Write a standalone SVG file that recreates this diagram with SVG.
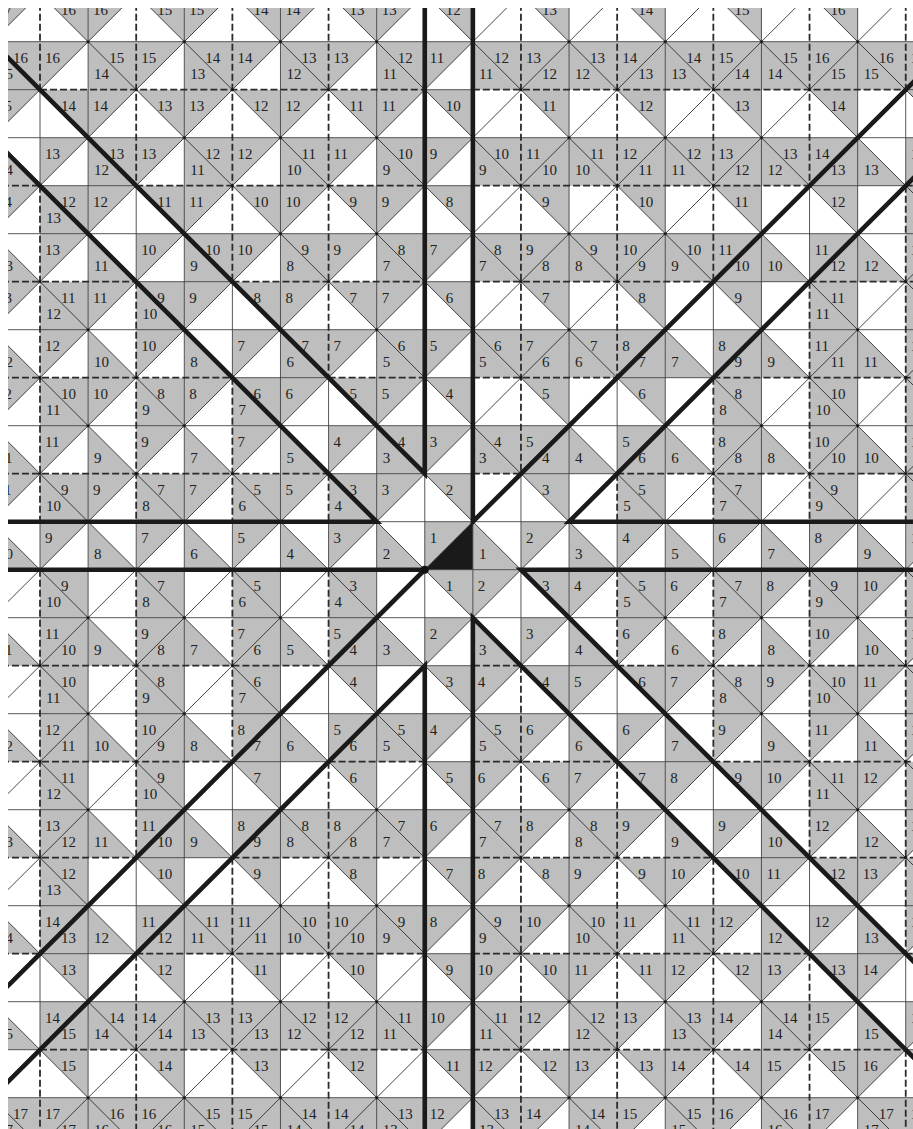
<svg xmlns="http://www.w3.org/2000/svg" width="913" height="1129" viewBox="0 0 913 1129">
<defs>
<clipPath id="clip"><rect x="8" y="8" width="905" height="1121"/></clipPath>
<pattern id="dots" patternUnits="userSpaceOnUse" x="-24" y="-24" width="96" height="96"><circle cx="72" cy="24" r="1.5" fill="#111"/><circle cx="24" cy="72" r="1.5" fill="#111"/></pattern>
<style>
.g{fill:#bebebe;stroke:none}
.t{fill:none;stroke:#444;stroke-width:0.9}
.x{fill:none;stroke:#1a1a1a;stroke-width:0.8}
.d{fill:none;stroke:#2b2b2b;stroke-width:1.8;stroke-dasharray:7 3}
.k{fill:none;stroke:#1a1a1a;stroke-width:4.6;stroke-linejoin:miter;stroke-miterlimit:4}
text{font-family:"Liberation Serif","Times New Roman",serif;font-size:15px;fill:#222}
</style>
</defs>
<rect width="913" height="1129" fill="#fff"/>
<g clip-path="url(#clip)">
<g transform="translate(40 41.7) scale(1.002 1)">
<g id="shading">
<path class="g" d="M-48 -48h48l-48 48zM0 -48h48v48zM48 -48h48l-48 48zM96 -48h48v48zM144 -48h48l-48 48zM192 -48h48v48zM240 -48h48l-48 48zM288 -48h48v48zM336 -48h48l-48 48zM384 -48h48v48zM480 -48h48v48zM576 -48h48v48zM672 -48h48v48zM768 -48h48v48zM864 -48h48v48z
M-48 0h48v48h-48zM0 0h48l-48 48zM48 0h48v48h-48zM96 0h48l-48 48zM144 0h48v48h-48zM192 0h48l-48 48zM240 0h48v48h-48zM288 0h48l-48 48zM336 0h48v48h-48zM384 0h48l-48 48zM432 0h480v48h-480z
M-48 48h48l-48 48zM0 48h48v48zM48 48h48l-48 48zM96 48h48v48zM144 48h48l-48 48zM192 48h48v48zM240 48h48l-48 48zM288 48h48v48zM336 48h48l-48 48zM384 48h48v48zM480 48h48v48zM576 48h48v48zM672 48h48v48zM768 48h48v48zM864 48h48v48z
M-48 96v48h48zM0 96h48l-48 48zM48 96h48v48h-48zM96 96h48l-48 48zM144 96h48v48h-48zM192 96h48l-48 48zM240 96h48v48h-48zM288 96h48l-48 48zM336 96h48v48h-48zM384 96h48l-48 48zM432 96h384v48h-384zM816 96v48h48zM864 96h48v48h-48z
M-48 144h48l-48 48zM0 144h48v48h-48zM48 144h48l-48 48zM96 144h48v48zM144 144h48l-48 48zM192 144h48v48zM240 144h48l-48 48zM288 144h48v48zM336 144h48l-48 48zM384 144h48v48zM480 144h48v48zM576 144h48v48zM672 144h48v48zM768 144h48v48zM864 144h48v48h-48z
M-48 192v48h48zM0 192h48l-48 48zM48 192v48h48zM96 192h48l-48 48zM144 192h48v48h-48zM192 192h48l-48 48zM240 192h48v48h-48zM288 192h48l-48 48zM336 192h48v48h-48zM384 192h48l-48 48zM432 192h288v48h-288zM720 192v48h48zM768 192h48v48h-48zM816 192v48h48zM864 192h48v48h-48z
M-48 240h48l-48 48zM0 240h48v48h-48zM48 240h48l-48 48zM96 240h48v48h-48zM144 240h48l-48 48zM192 240h48v48zM240 240h48l-48 48zM288 240h48v48zM336 240h48l-48 48zM384 240h48v48zM480 240h48v48zM576 240h48v48zM672 240h48v48zM768 240h48v48h-48zM864 240h48v48h-48z
M-48 288v48h48zM0 288h48l-48 48zM48 288v48h48zM96 288h48l-48 48zM144 288v48h48zM192 288h48l-48 48zM240 288h48v48h-48zM288 288h48l-48 48zM336 288h48v48h-48zM384 288h48l-48 48zM432 288h192v48h-192zM624 288v48h48zM672 288h48v48h-48zM720 288v48h48zM768 288h48v48h-48zM816 288v48h48zM864 288h48v48h-48z
M-48 336h48l-48 48zM0 336h48v48h-48zM48 336h48l-48 48zM96 336h48v48h-48zM144 336h48l-48 48zM192 336h48v48h-48zM240 336h48l-48 48zM288 336h48v48zM336 336h48l-48 48zM384 336h48v48zM480 336h48v48zM576 336h48v48zM672 336h48v48h-48zM768 336h48v48h-48zM864 336h48v48h-48z
M-48 384v48h48zM0 384h48l-48 48zM48 384v48h48zM96 384h48l-48 48zM144 384v48h48zM192 384h48l-48 48zM240 384v48h48zM288 384h48l-48 48zM336 384h48v48h-48zM384 384h48l-48 48zM432 384h96v48h-96zM528 384v48h48zM576 384h48v48h-48zM624 384v48h48zM672 384h48v48h-48zM720 384v48h48zM768 384h48v48h-48zM816 384v48h48zM864 384h48v48h-48z
M-48 432h48l-48 48zM0 432h48v48h-48zM48 432h48l-48 48zM96 432h48v48h-48zM144 432h48l-48 48zM192 432h48v48h-48zM240 432h48l-48 48zM288 432h48v48h-48zM336 432h48l-48 48zM384 432h48v48zM480 432h48v48zM576 432h48v48h-48zM672 432h48v48h-48zM768 432h48v48h-48zM864 432h48v48h-48z
M-48 480v48h48zM0 480h48l-48 48zM48 480v48h48zM96 480h48l-48 48zM144 480v48h48zM192 480h48l-48 48zM240 480v48h48zM288 480h48l-48 48zM336 480v48h48zM384 480h48l-48 48zM432 480v48h48zM480 480h48l-48 48zM528 480v48h48zM576 480h48l-48 48zM624 480v48h48zM672 480h48l-48 48zM720 480v48h48zM768 480h48l-48 48zM816 480v48h48zM864 480h48l-48 48z
M0 528h48v48h-48zM96 528h48v48h-48zM192 528h48v48h-48zM288 528h48v48h-48zM384 528h48v48zM432 528h48l-48 48zM480 528h48v48zM528 528h48l-48 48zM576 528h48v48h-48zM624 528h48l-48 48zM672 528h48v48h-48zM720 528h48l-48 48zM768 528h48v48h-48zM816 528h48l-48 48zM864 528h48v48h-48z
M-48 576v48h48zM0 576h48v48h-48zM48 576v48h48zM96 576h48v48h-48zM144 576v48h48zM192 576h48v48h-48zM240 576v48h48zM288 576h48v48h-48zM336 576v48h48zM384 576h48l-48 48zM432 576v48h48zM480 576h48l-48 48zM528 576v48h48zM576 576h48l-48 48zM624 576v48h48zM672 576h48l-48 48zM720 576v48h48zM768 576h48l-48 48zM816 576v48h48zM864 576h48l-48 48z
M0 624h48v48h-48zM96 624h48v48h-48zM192 624h48v48h-48zM288 624h48v48zM384 624h48v48zM432 624h48l-48 48zM480 624h48v48zM528 624h48l-48 48zM576 624h48v48zM624 624h48l-48 48zM672 624h48v48h-48zM720 624h48l-48 48zM768 624h48v48h-48zM816 624h48l-48 48zM864 624h48v48h-48z
M-48 672v48h48zM0 672h48v48h-48zM48 672v48h48zM96 672h48v48h-48zM144 672v48h48zM192 672h48v48h-48zM240 672v48h48zM288 672h96v48h-96zM384 672h48l-48 48zM432 672h48v48h-48zM480 672h48l-48 48zM528 672v48h48zM576 672h48l-48 48zM624 672v48h48zM672 672h48l-48 48zM720 672v48h48zM768 672h48l-48 48zM816 672v48h48zM864 672h48l-48 48z
M0 720h48v48h-48zM96 720h48v48h-48zM192 720h48v48zM288 720h48v48zM384 720h48v48zM432 720h48l-48 48zM480 720h48v48zM528 720h48l-48 48zM576 720h48v48zM624 720h48l-48 48zM672 720h48v48zM720 720h48l-48 48zM768 720h48v48h-48zM816 720h48l-48 48zM864 720h48v48h-48z
M-48 768v48h48zM0 768h48v48h-48zM48 768v48h48zM96 768h48v48h-48zM144 768v48h48zM192 768h192v48h-192zM384 768h48l-48 48zM432 768h48v48h-48zM480 768h48l-48 48zM528 768h48v48h-48zM576 768h48l-48 48zM624 768v48h48zM672 768h48l-48 48zM720 768v48h48zM768 768h48l-48 48zM816 768v48h48zM864 768h48l-48 48z
M0 816h48v48h-48zM96 816h48v48zM192 816h48v48zM288 816h48v48zM384 816h48v48zM432 816h48l-48 48zM480 816h48v48zM528 816h48l-48 48zM576 816h48v48zM624 816h48l-48 48zM672 816h48v48zM720 816h48l-48 48zM768 816h48v48zM816 816h48l-48 48zM864 816h48v48h-48z
M-48 864v48h48zM0 864h48v48h-48zM48 864v48h48zM96 864h288v48h-288zM384 864h48l-48 48zM432 864h48v48h-48zM480 864h48l-48 48zM528 864h48v48h-48zM576 864h48l-48 48zM624 864h48v48h-48zM672 864h48l-48 48zM720 864v48h48zM768 864h48l-48 48zM816 864v48h48zM864 864h48l-48 48z
M0 912h48v48zM96 912h48v48zM192 912h48v48zM288 912h48v48zM384 912h48v48zM432 912h48l-48 48zM480 912h48v48zM528 912h48l-48 48zM576 912h48v48zM624 912h48l-48 48zM672 912h48v48zM720 912h48l-48 48zM768 912h48v48zM816 912h48l-48 48zM864 912h48v48z
M-48 960v48h48zM0 960h384v48h-384zM384 960h48l-48 48zM432 960h48v48h-48zM480 960h48l-48 48zM528 960h48v48h-48zM576 960h48l-48 48zM624 960h48v48h-48zM672 960h48l-48 48zM720 960h48v48h-48zM768 960h48l-48 48zM816 960v48h48zM864 960h48l-48 48z
M0 1008h48v48zM96 1008h48v48zM192 1008h48v48zM288 1008h48v48zM384 1008h48v48zM432 1008h48l-48 48zM480 1008h48v48zM528 1008h48l-48 48zM576 1008h48v48zM624 1008h48l-48 48zM672 1008h48v48zM720 1008h48l-48 48zM768 1008h48v48zM816 1008h48l-48 48zM864 1008h48v48z
M-48 1056h432v48h-432zM384 1056h48l-48 48zM432 1056h48v48h-48zM480 1056h48l-48 48zM528 1056h48v48h-48zM576 1056h48l-48 48zM624 1056h48v48h-48zM672 1056h48l-48 48zM720 1056h48v48h-48zM768 1056h48l-48 48zM816 1056h48v48h-48zM864 1056h48l-48 48z"/>
<path d="M432 480v48h-48z" fill="#1a1a1a"/>
</g>
<g id="grid">
<path class="t" d="M-48 -48V1104M48 -48V1104M144 -48V1104M240 -48V1104M336 -48V1104M432 -48V1104M528 -48V1104M624 -48V1104M720 -48V1104M816 -48V1104M384 -48V1104M480 432V624
M-48 0H912M-48 96H912M-48 192H912M-48 288H912M-48 384H912M-48 480H912M-48 528H912M-48 576H912M-48 672H912M-48 768H912M-48 864H912M-48 960H912M-48 1056H912
M0 48V144M0 480V528M0 912V1008M96 144V240M96 480V528M96 816V912M192 240V336M192 480V528M192 720V816M288 336V432M288 480V528M288 624V720
M576 336V432M576 480V528M576 624V720M672 240V336M672 480V528M672 720V816M768 144V240M768 480V528M768 816V912M864 48V144M864 480V528M864 912V1008
M-96 48H0M384 48H432M864 48H960M0 144H96M384 144H432M768 144H864M96 240H192M384 240H432M672 240H768M192 336H288M384 336H432M576 336H672
M288 432H432M480 432H576M288 624H432M480 624H576M192 720H288M384 720H432M576 720H672M96 816H192M384 816H432M672 816H768M0 912H96M384 912H432M768 912H864M-96 1008H0M384 1008H432M864 1008H960"/>
<path class="x" d="M-1152 -48l1248 1248M-1056 -48l1248 1248M-960 -48l1248 1248M-864 -48l1248 1248M-768 -48l1248 1248M-672 -48l1248 1248M-576 -48l1248 1248M-480 -48l1248 1248M-384 -48l1248 1248M-288 -48l1248 1248M-192 -48l1248 1248M-96 -48l1248 1248M0 -48l1248 1248M96 -48l1248 1248M192 -48l1248 1248M288 -48l1248 1248M384 -48l1248 1248M480 -48l1248 1248M576 -48l1248 1248M672 -48l1248 1248M768 -48l1248 1248
M0 -48l-1248 1248M96 -48l-1248 1248M192 -48l-1248 1248M288 -48l-1248 1248M384 -48l-1248 1248M480 -48l-1248 1248M576 -48l-1248 1248M672 -48l-1248 1248M768 -48l-1248 1248M864 -48l-1248 1248M960 -48l-1248 1248M1056 -48l-1248 1248M1152 -48l-1248 1248M1248 -48l-1248 1248M1344 -48l-1248 1248M1440 -48l-1248 1248M1536 -48l-1248 1248M1632 -48l-1248 1248M1728 -48l-1248 1248M1824 -48l-1248 1248M1920 -48l-1248 1248"/>
<path class="d" d="M0 -48V48M0 144V480M0 528V912M0 1008V1104M96 -48V144M96 240V480M96 528V816M96 912V1104M192 -48V240M192 336V480M192 528V720M192 816V1104M288 -48V336M288 432V480M288 528V624M288 720V1104M480 -48V432M480 624V1104M576 -48V336M576 432V480M576 528V624M576 720V1104M672 -48V240M672 336V480M672 528V720M672 816V1104M768 -48V144M768 240V480M768 528V816M768 912V1104M864 -48V48M864 144V480M864 528V912M864 1008V1104
M0 48H384M432 48H864M-48 144H0M96 144H384M432 144H768M864 144H912M-48 240H96M192 240H384M432 240H672M768 240H912M-48 336H192M288 336H384M432 336H576M672 336H912M-48 432H288M432 432H480M576 432H912
M-48 624H288M432 624H480M576 624H912M-48 720H192M288 720H384M432 720H576M672 720H912M-48 816H96M192 816H384M432 816H672M768 816H912M-48 912H0M96 912H384M432 912H768M864 912H912M0 1008H384M432 1008H864"/>
<rect x="-48" y="-48" width="960" height="1200" fill="url(#dots)"/>
</g>
<g id="labels">
<text x="-43" y="-26.5">17</text><text x="21" y="-26.5">16</text><text x="53" y="-26.5">16</text><text x="117" y="-26.5">15</text><text x="149" y="-26.5">15</text><text x="213" y="-26.5">14</text><text x="245" y="-26.5">14</text><text x="309" y="-26.5">13</text><text x="341" y="-26.5">13</text><text x="405" y="-26.5">12</text><text x="501" y="-26.5">13</text><text x="597" y="-26.5">14</text><text x="693" y="-26.5">15</text><text x="789" y="-26.5">16</text>
<text x="-27" y="21.5">16</text><text x="5" y="21.5">16</text><text x="69" y="21.5">15</text><text x="101" y="21.5">15</text><text x="165" y="21.5">14</text><text x="197" y="21.5">14</text><text x="261" y="21.5">13</text><text x="293" y="21.5">13</text><text x="357" y="21.5">12</text><text x="389" y="21.5">11</text><text x="453" y="21.5">12</text><text x="485" y="21.5">13</text><text x="549" y="21.5">13</text><text x="581" y="21.5">14</text><text x="645" y="21.5">14</text><text x="677" y="21.5">15</text><text x="741" y="21.5">15</text><text x="773" y="21.5">16</text><text x="837" y="21.5">16</text><text x="869" y="21.5">17</text>
<text x="-42" y="37">15</text><text x="54" y="37">14</text><text x="150" y="37">13</text><text x="246" y="37">12</text><text x="342" y="37">11</text><text x="438" y="37">11</text><text x="501" y="37">12</text><text x="534" y="37">12</text><text x="597" y="37">13</text><text x="630" y="37">13</text><text x="693" y="37">14</text><text x="726" y="37">14</text><text x="789" y="37">15</text><text x="822" y="37">15</text>
<text x="-43" y="69.5">15</text><text x="21" y="69.5">14</text><text x="53" y="69.5">14</text><text x="117" y="69.5">13</text><text x="149" y="69.5">13</text><text x="213" y="69.5">12</text><text x="245" y="69.5">12</text><text x="309" y="69.5">11</text><text x="341" y="69.5">11</text><text x="405" y="69.5">10</text><text x="501" y="69.5">11</text><text x="597" y="69.5">12</text><text x="693" y="69.5">13</text><text x="789" y="69.5">14</text>
<text x="5" y="117.5">13</text><text x="69" y="117.5">13</text><text x="101" y="117.5">13</text><text x="165" y="117.5">12</text><text x="197" y="117.5">12</text><text x="261" y="117.5">11</text><text x="293" y="117.5">11</text><text x="357" y="117.5">10</text><text x="389" y="117.5">9</text><text x="453" y="117.5">10</text><text x="485" y="117.5">11</text><text x="549" y="117.5">11</text><text x="581" y="117.5">12</text><text x="645" y="117.5">12</text><text x="677" y="117.5">13</text><text x="741" y="117.5">13</text><text x="773" y="117.5">14</text><text x="869" y="117.5">14</text>
<text x="-42" y="133">14</text><text x="54" y="133">12</text><text x="150" y="133">11</text><text x="246" y="133">10</text><text x="342" y="133">9</text><text x="438" y="133">9</text><text x="501" y="133">10</text><text x="534" y="133">10</text><text x="597" y="133">11</text><text x="630" y="133">11</text><text x="693" y="133">12</text><text x="726" y="133">12</text><text x="789" y="133">13</text><text x="822" y="133">13</text>
<text x="-43" y="165.5">14</text><text x="21" y="165.5">12</text><text x="53" y="165.5">12</text><text x="117" y="165.5">11</text><text x="149" y="165.5">11</text><text x="213" y="165.5">10</text><text x="245" y="165.5">10</text><text x="309" y="165.5">9</text><text x="341" y="165.5">9</text><text x="405" y="165.5">8</text><text x="501" y="165.5">9</text><text x="597" y="165.5">10</text><text x="693" y="165.5">11</text><text x="789" y="165.5">12</text>
<text x="6" y="181">13</text><text x="870" y="181">14</text>
<text x="5" y="213.5">13</text><text x="101" y="213.5">10</text><text x="165" y="213.5">10</text><text x="197" y="213.5">10</text><text x="261" y="213.5">9</text><text x="293" y="213.5">9</text><text x="357" y="213.5">8</text><text x="389" y="213.5">7</text><text x="453" y="213.5">8</text><text x="485" y="213.5">9</text><text x="549" y="213.5">9</text><text x="581" y="213.5">10</text><text x="645" y="213.5">10</text><text x="677" y="213.5">11</text><text x="773" y="213.5">11</text><text x="869" y="213.5">14</text>
<text x="-42" y="229">13</text><text x="54" y="229">11</text><text x="150" y="229">9</text><text x="246" y="229">8</text><text x="342" y="229">7</text><text x="438" y="229">7</text><text x="501" y="229">8</text><text x="534" y="229">8</text><text x="597" y="229">9</text><text x="630" y="229">9</text><text x="693" y="229">10</text><text x="726" y="229">10</text><text x="789" y="229">12</text><text x="822" y="229">12</text>
<text x="-43" y="261.5">13</text><text x="21" y="261.5">11</text><text x="53" y="261.5">11</text><text x="117" y="261.5">9</text><text x="149" y="261.5">9</text><text x="213" y="261.5">8</text><text x="245" y="261.5">8</text><text x="309" y="261.5">7</text><text x="341" y="261.5">7</text><text x="405" y="261.5">6</text><text x="501" y="261.5">7</text><text x="597" y="261.5">8</text><text x="693" y="261.5">9</text><text x="789" y="261.5">11</text>
<text x="6" y="277">12</text><text x="102" y="277">10</text><text x="774" y="277">11</text><text x="870" y="277">13</text>
<text x="5" y="309.5">12</text><text x="101" y="309.5">10</text><text x="197" y="309.5">7</text><text x="261" y="309.5">7</text><text x="293" y="309.5">7</text><text x="357" y="309.5">6</text><text x="389" y="309.5">5</text><text x="453" y="309.5">6</text><text x="485" y="309.5">7</text><text x="549" y="309.5">7</text><text x="581" y="309.5">8</text><text x="677" y="309.5">8</text><text x="773" y="309.5">11</text><text x="869" y="309.5">13</text>
<text x="-42" y="325">12</text><text x="54" y="325">10</text><text x="150" y="325">8</text><text x="246" y="325">6</text><text x="342" y="325">5</text><text x="438" y="325">5</text><text x="501" y="325">6</text><text x="534" y="325">6</text><text x="597" y="325">7</text><text x="630" y="325">7</text><text x="693" y="325">9</text><text x="726" y="325">9</text><text x="789" y="325">11</text><text x="822" y="325">11</text>
<text x="-43" y="357.5">12</text><text x="21" y="357.5">10</text><text x="53" y="357.5">10</text><text x="117" y="357.5">8</text><text x="149" y="357.5">8</text><text x="213" y="357.5">6</text><text x="245" y="357.5">6</text><text x="309" y="357.5">5</text><text x="341" y="357.5">5</text><text x="405" y="357.5">4</text><text x="501" y="357.5">5</text><text x="597" y="357.5">6</text><text x="693" y="357.5">8</text><text x="789" y="357.5">10</text>
<text x="6" y="373">11</text><text x="102" y="373">9</text><text x="198" y="373">7</text><text x="678" y="373">8</text><text x="774" y="373">10</text><text x="870" y="373">12</text>
<text x="5" y="405.5">11</text><text x="101" y="405.5">9</text><text x="197" y="405.5">7</text><text x="293" y="405.5">4</text><text x="357" y="405.5">4</text><text x="389" y="405.5">3</text><text x="453" y="405.5">4</text><text x="485" y="405.5">5</text><text x="581" y="405.5">5</text><text x="677" y="405.5">8</text><text x="773" y="405.5">10</text><text x="869" y="405.5">12</text>
<text x="-42" y="421">11</text><text x="54" y="421">9</text><text x="150" y="421">7</text><text x="246" y="421">5</text><text x="342" y="421">3</text><text x="438" y="421">3</text><text x="501" y="421">4</text><text x="534" y="421">4</text><text x="597" y="421">6</text><text x="630" y="421">6</text><text x="693" y="421">8</text><text x="726" y="421">8</text><text x="789" y="421">10</text><text x="822" y="421">10</text>
<text x="-43" y="453.5">11</text><text x="21" y="453.5">9</text><text x="53" y="453.5">9</text><text x="117" y="453.5">7</text><text x="149" y="453.5">7</text><text x="213" y="453.5">5</text><text x="245" y="453.5">5</text><text x="309" y="453.5">3</text><text x="341" y="453.5">3</text><text x="405" y="453.5">2</text><text x="501" y="453.5">3</text><text x="597" y="453.5">5</text><text x="693" y="453.5">7</text><text x="789" y="453.5">9</text>
<text x="6" y="469">10</text><text x="102" y="469">8</text><text x="198" y="469">6</text><text x="294" y="469">4</text><text x="582" y="469">5</text><text x="678" y="469">7</text><text x="774" y="469">9</text><text x="870" y="469">11</text>
<text x="5" y="501.5">9</text><text x="101" y="501.5">7</text><text x="197" y="501.5">5</text><text x="293" y="501.5">3</text><text x="389" y="501.5">1</text><text x="485" y="501.5">2</text><text x="581" y="501.5">4</text><text x="677" y="501.5">6</text><text x="773" y="501.5">8</text><text x="869" y="501.5">10</text>
<text x="-42" y="517">10</text><text x="54" y="517">8</text><text x="150" y="517">6</text><text x="246" y="517">4</text><text x="342" y="517">2</text><text x="438" y="517">1</text><text x="534" y="517">3</text><text x="630" y="517">5</text><text x="726" y="517">7</text><text x="822" y="517">9</text>
<text x="21" y="549.5">9</text><text x="117" y="549.5">7</text><text x="213" y="549.5">5</text><text x="309" y="549.5">3</text><text x="405" y="549.5">1</text><text x="437" y="549.5">2</text><text x="501" y="549.5">3</text><text x="533" y="549.5">4</text><text x="597" y="549.5">5</text><text x="629" y="549.5">6</text><text x="693" y="549.5">7</text><text x="725" y="549.5">8</text><text x="789" y="549.5">9</text><text x="821" y="549.5">10</text>
<text x="6" y="565">10</text><text x="102" y="565">8</text><text x="198" y="565">6</text><text x="294" y="565">4</text><text x="582" y="565">5</text><text x="678" y="565">7</text><text x="774" y="565">9</text><text x="870" y="565">11</text>
<text x="5" y="597.5">11</text><text x="101" y="597.5">9</text><text x="197" y="597.5">7</text><text x="293" y="597.5">5</text><text x="389" y="597.5">2</text><text x="485" y="597.5">3</text><text x="581" y="597.5">6</text><text x="677" y="597.5">8</text><text x="773" y="597.5">10</text><text x="869" y="597.5">12</text>
<text x="-42" y="613">11</text><text x="21" y="613">10</text><text x="54" y="613">9</text><text x="117" y="613">8</text><text x="150" y="613">7</text><text x="213" y="613">6</text><text x="246" y="613">5</text><text x="309" y="613">4</text><text x="342" y="613">3</text><text x="438" y="613">3</text><text x="534" y="613">4</text><text x="630" y="613">6</text><text x="726" y="613">8</text><text x="822" y="613">10</text>
<text x="21" y="645.5">10</text><text x="117" y="645.5">8</text><text x="213" y="645.5">6</text><text x="309" y="645.5">4</text><text x="405" y="645.5">3</text><text x="437" y="645.5">4</text><text x="501" y="645.5">4</text><text x="533" y="645.5">5</text><text x="597" y="645.5">6</text><text x="629" y="645.5">7</text><text x="693" y="645.5">8</text><text x="725" y="645.5">9</text><text x="789" y="645.5">10</text><text x="821" y="645.5">11</text>
<text x="6" y="661">11</text><text x="102" y="661">9</text><text x="198" y="661">7</text><text x="678" y="661">8</text><text x="774" y="661">10</text><text x="870" y="661">12</text>
<text x="5" y="693.5">12</text><text x="101" y="693.5">10</text><text x="197" y="693.5">8</text><text x="293" y="693.5">5</text><text x="357" y="693.5">5</text><text x="389" y="693.5">4</text><text x="453" y="693.5">5</text><text x="485" y="693.5">6</text><text x="581" y="693.5">6</text><text x="677" y="693.5">9</text><text x="773" y="693.5">11</text><text x="869" y="693.5">13</text>
<text x="-42" y="709">12</text><text x="21" y="709">11</text><text x="54" y="709">10</text><text x="117" y="709">9</text><text x="150" y="709">8</text><text x="213" y="709">7</text><text x="246" y="709">6</text><text x="309" y="709">6</text><text x="342" y="709">5</text><text x="438" y="709">5</text><text x="534" y="709">6</text><text x="630" y="709">7</text><text x="726" y="709">9</text><text x="822" y="709">11</text>
<text x="21" y="741.5">11</text><text x="117" y="741.5">9</text><text x="213" y="741.5">7</text><text x="309" y="741.5">6</text><text x="405" y="741.5">5</text><text x="437" y="741.5">6</text><text x="501" y="741.5">6</text><text x="533" y="741.5">7</text><text x="597" y="741.5">7</text><text x="629" y="741.5">8</text><text x="693" y="741.5">9</text><text x="725" y="741.5">10</text><text x="789" y="741.5">11</text><text x="821" y="741.5">12</text>
<text x="6" y="757">12</text><text x="102" y="757">10</text><text x="774" y="757">11</text><text x="870" y="757">13</text>
<text x="5" y="789.5">13</text><text x="101" y="789.5">11</text><text x="197" y="789.5">8</text><text x="261" y="789.5">8</text><text x="293" y="789.5">8</text><text x="357" y="789.5">7</text><text x="389" y="789.5">6</text><text x="453" y="789.5">7</text><text x="485" y="789.5">8</text><text x="549" y="789.5">8</text><text x="581" y="789.5">9</text><text x="677" y="789.5">9</text><text x="773" y="789.5">12</text><text x="869" y="789.5">14</text>
<text x="-42" y="805">13</text><text x="21" y="805">12</text><text x="54" y="805">11</text><text x="117" y="805">10</text><text x="150" y="805">9</text><text x="213" y="805">9</text><text x="246" y="805">8</text><text x="309" y="805">8</text><text x="342" y="805">7</text><text x="438" y="805">7</text><text x="534" y="805">8</text><text x="630" y="805">9</text><text x="726" y="805">10</text><text x="822" y="805">12</text>
<text x="21" y="837.5">12</text><text x="117" y="837.5">10</text><text x="213" y="837.5">9</text><text x="309" y="837.5">8</text><text x="405" y="837.5">7</text><text x="437" y="837.5">8</text><text x="501" y="837.5">8</text><text x="533" y="837.5">9</text><text x="597" y="837.5">9</text><text x="629" y="837.5">10</text><text x="693" y="837.5">10</text><text x="725" y="837.5">11</text><text x="789" y="837.5">12</text><text x="821" y="837.5">13</text>
<text x="6" y="853">13</text><text x="870" y="853">14</text>
<text x="5" y="885.5">14</text><text x="101" y="885.5">11</text><text x="165" y="885.5">11</text><text x="197" y="885.5">11</text><text x="261" y="885.5">10</text><text x="293" y="885.5">10</text><text x="357" y="885.5">9</text><text x="389" y="885.5">8</text><text x="453" y="885.5">9</text><text x="485" y="885.5">10</text><text x="549" y="885.5">10</text><text x="581" y="885.5">11</text><text x="645" y="885.5">11</text><text x="677" y="885.5">12</text><text x="773" y="885.5">12</text><text x="869" y="885.5">15</text>
<text x="-42" y="901">14</text><text x="21" y="901">13</text><text x="54" y="901">12</text><text x="117" y="901">12</text><text x="150" y="901">11</text><text x="213" y="901">11</text><text x="246" y="901">10</text><text x="309" y="901">10</text><text x="342" y="901">9</text><text x="438" y="901">9</text><text x="534" y="901">10</text><text x="630" y="901">11</text><text x="726" y="901">12</text><text x="822" y="901">13</text>
<text x="21" y="933.5">13</text><text x="117" y="933.5">12</text><text x="213" y="933.5">11</text><text x="309" y="933.5">10</text><text x="405" y="933.5">9</text><text x="437" y="933.5">10</text><text x="501" y="933.5">10</text><text x="533" y="933.5">11</text><text x="597" y="933.5">11</text><text x="629" y="933.5">12</text><text x="693" y="933.5">12</text><text x="725" y="933.5">13</text><text x="789" y="933.5">13</text><text x="821" y="933.5">14</text>
<text x="5" y="981.5">14</text><text x="69" y="981.5">14</text><text x="101" y="981.5">14</text><text x="165" y="981.5">13</text><text x="197" y="981.5">13</text><text x="261" y="981.5">12</text><text x="293" y="981.5">12</text><text x="357" y="981.5">11</text><text x="389" y="981.5">10</text><text x="453" y="981.5">11</text><text x="485" y="981.5">12</text><text x="549" y="981.5">12</text><text x="581" y="981.5">13</text><text x="645" y="981.5">13</text><text x="677" y="981.5">14</text><text x="741" y="981.5">14</text><text x="773" y="981.5">15</text><text x="869" y="981.5">15</text>
<text x="-42" y="997">15</text><text x="21" y="997">15</text><text x="54" y="997">14</text><text x="117" y="997">14</text><text x="150" y="997">13</text><text x="213" y="997">13</text><text x="246" y="997">12</text><text x="309" y="997">12</text><text x="342" y="997">11</text><text x="438" y="997">11</text><text x="534" y="997">12</text><text x="630" y="997">13</text><text x="726" y="997">14</text><text x="822" y="997">15</text>
<text x="21" y="1029.5">15</text><text x="117" y="1029.5">14</text><text x="213" y="1029.5">13</text><text x="309" y="1029.5">12</text><text x="405" y="1029.5">11</text><text x="437" y="1029.5">12</text><text x="501" y="1029.5">12</text><text x="533" y="1029.5">13</text><text x="597" y="1029.5">13</text><text x="629" y="1029.5">14</text><text x="693" y="1029.5">14</text><text x="725" y="1029.5">15</text><text x="789" y="1029.5">15</text><text x="821" y="1029.5">16</text>
<text x="-27" y="1077.5">17</text><text x="5" y="1077.5">17</text><text x="69" y="1077.5">16</text><text x="101" y="1077.5">16</text><text x="165" y="1077.5">15</text><text x="197" y="1077.5">15</text><text x="261" y="1077.5">14</text><text x="293" y="1077.5">14</text><text x="357" y="1077.5">13</text><text x="389" y="1077.5">12</text><text x="453" y="1077.5">13</text><text x="485" y="1077.5">14</text><text x="549" y="1077.5">14</text><text x="581" y="1077.5">15</text><text x="645" y="1077.5">15</text><text x="677" y="1077.5">16</text><text x="741" y="1077.5">16</text><text x="773" y="1077.5">17</text><text x="837" y="1077.5">17</text><text x="869" y="1077.5">18</text>
<text x="-42" y="1093">17</text><text x="21" y="1093">17</text><text x="54" y="1093">16</text><text x="117" y="1093">16</text><text x="150" y="1093">15</text><text x="213" y="1093">15</text><text x="246" y="1093">14</text><text x="309" y="1093">14</text><text x="342" y="1093">13</text><text x="438" y="1093">13</text><text x="534" y="1093">14</text><text x="630" y="1093">15</text><text x="726" y="1093">16</text><text x="822" y="1093">17</text>
</g>
<g id="connectors">
<path class="k" d="M384 -48V432L-96 -48M-48 480H336L-192 -48M432 -48V480L960 -48M912 480H528L1056 -48M-48 528H384L-240 1152M384 1152V624L-144 1152M432 1152V576L1008 1152M912 528H480L1104 1152"/>
<circle cx="384" cy="528" r="4" fill="#111"/>
</g>
</g>
</g>
</svg>
